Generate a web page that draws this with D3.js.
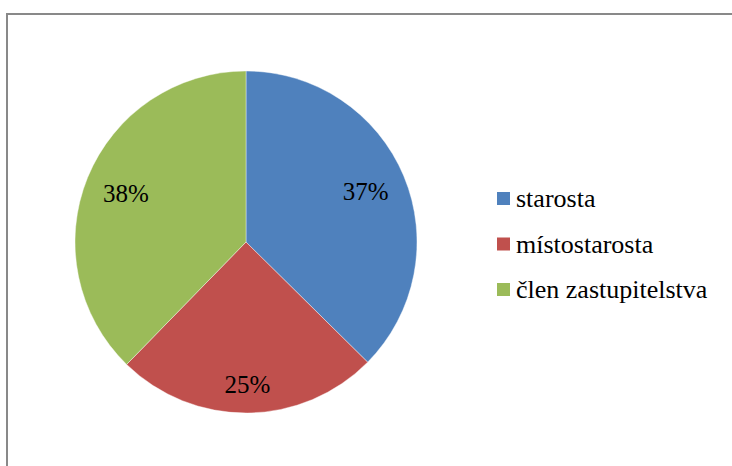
<!DOCTYPE html>
<html><head><meta charset="utf-8">
<script src="https://cdn.jsdelivr.net/npm/d3@7"></script>
<style>body{margin:0;background:#fff}svg{display:block}</style>
</head><body>
<script>
const categories = ["starosta", "místostarosta", "člen zastupitelstva"];
const values = [37.4, 24.9, 37.7];
const colors = ["#4F81BD", "#C0504D", "#9BBB59"];

const W = 732, H = 466;
const FONT = "Liberation Serif";
const svg = d3.select("body").append("svg").attr("width", W).attr("height", H);
svg.append("rect").attr("x", 7).attr("y", 14).attr("width", 740).attr("height", 480)
  .attr("fill", "#fff").attr("stroke", "#898989").attr("stroke-width", 2);

const cx = 246, cy = 242, r = 171;
const total = d3.sum(values);
const pie = d3.pie().sort(null).value(d => d)(values);
const arc = d3.arc().innerRadius(0).outerRadius(r);
const g = svg.append("g").attr("transform", `translate(${cx},${cy})`);
g.selectAll("path").data(pie).join("path").attr("d", arc)
  .attr("fill", (d, i) => colors[i]).attr("stroke", "#fff").attr("stroke-width", 0.4);

const fontSize = 25;
const labels = g.selectAll("text.lbl").data(pie).join("text").attr("class", "lbl")
  .style("font-family", FONT).style("font-size", fontSize + "px")
  .attr("text-anchor", "middle").attr("fill", "#000")
  .text(d => Math.round(d.data / total * 100) + "%");
labels.each(function(d) {
  const w = this.getComputedTextLength(), h = fontSize * 0.8;
  const a = (d.startAngle + d.endAngle) / 2;
  const ux = Math.sin(a), uy = -Math.cos(a);
  const target = r * 0.905;
  let lo = 0, hi = r;
  for (let k = 0; k < 40; k++) {
    const m = (lo + hi) / 2;
    const x = ux * m, y = uy * m;
    const far = Math.max(...[[-1,-1],[-1,1],[1,-1],[1,1]].map(([sx, sy]) => Math.hypot(x + sx * w / 2, y + sy * h / 2)));
    if (far > target) hi = m; else lo = m;
  }
  d3.select(this).attr("x", ux * lo).attr("y", uy * lo + fontSize * 0.34);
});

const leg = svg.append("g").attr("transform", "translate(497,192)");
const items = leg.selectAll("g").data(categories).join("g")
  .attr("transform", (d, i) => `translate(0,${i * 45.5})`);
items.append("rect").attr("width", 13).attr("height", 13).attr("fill", (d, i) => colors[i]);
items.append("text").attr("x", 19).attr("y", 15)
  .style("font-family", FONT).style("font-size", "26px")
  .attr("fill", "#000").text(d => d);
</script>
</body></html>
